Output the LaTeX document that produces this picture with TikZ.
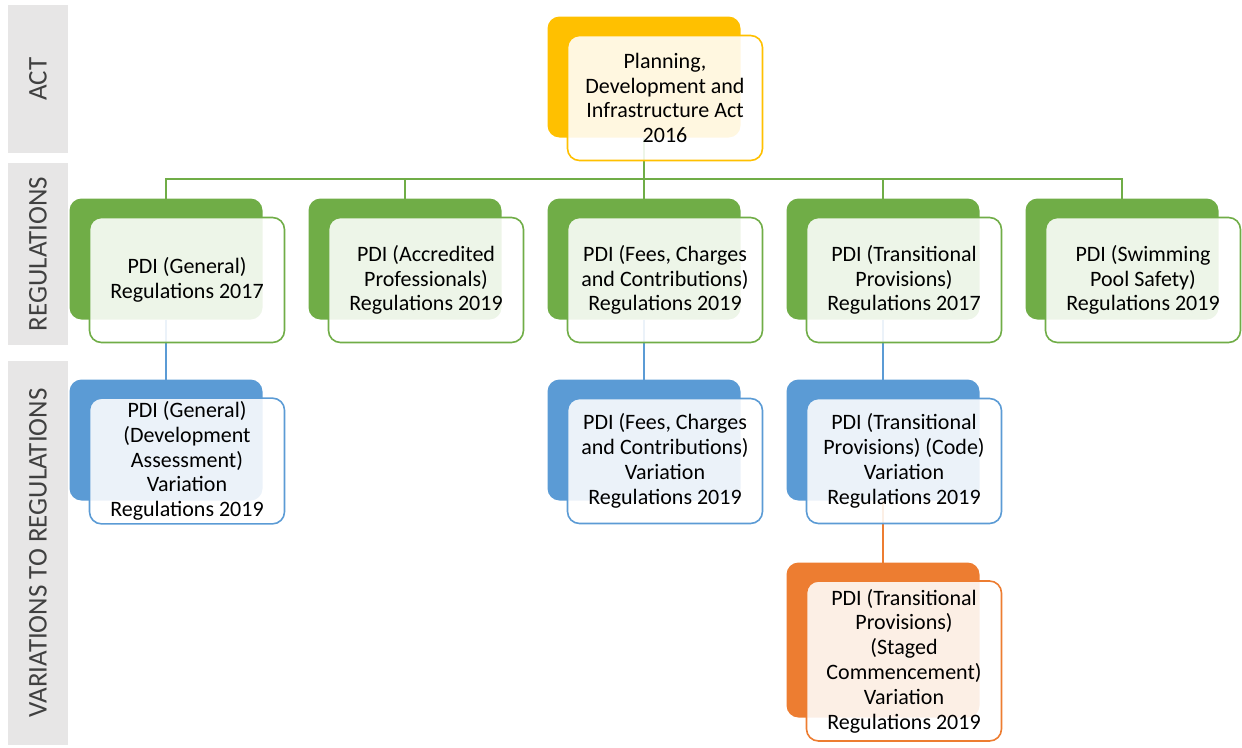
\documentclass[tikz,border=0pt]{standalone}
\usepackage{fontspec}
\setmainfont{Carlito}
\usepackage{tikz}
\usetikzlibrary{positioning}
\definecolor{actgold}{HTML}{FFC000}
\definecolor{reggreen}{HTML}{70AD47}
\definecolor{varblue}{HTML}{5B9BD5}
\definecolor{stgorange}{HTML}{ED7D31}
\definecolor{bandgray}{HTML}{E7E6E6}
\definecolor{bandtext}{HTML}{404040}
\tikzset{
  back/.style={
    rectangle, rounded corners=12pt,
    fill=#1, outer sep=0pt,
    minimum width=193pt, minimum height=121pt
  },
  front/.style={
    rectangle, rounded corners=12pt,
    draw=#1, line width=1.6pt,
    fill=white, fill opacity=0.88, text opacity=1,
    minimum width=195pt, minimum height=125pt,
    align=center, text=black, inner xsep=2pt,
    font=\fontsize{22}{24.8}\selectfont
  },
  link/.style={draw=#1, line width=1.6pt},
  band/.style={
    fill=bandgray, rotate=90, minimum height=60pt,
    text=bandtext, font=\fontsize{27}{30}\selectfont
  }
}

\begin{document}
\begin{tikzpicture}[x=1pt, y=-1pt, node distance=61pt and 46pt]
  \useasboundingbox (0,0) rectangle (1242,747);

  % side bands
  \node[band, minimum width=148pt] (actband) at (38,79) {ACT};
  \node[band, minimum width=182pt] (regband) at (38,254) {REGULATIONS};
  \node[band, minimum width=384pt] (varband) at (38,553) {VARIATIONS TO REGULATIONS};

  % back boxes
  \node[back=actgold] (act) at (644,77) {};
  \node[back=reggreen] (fee) [below=of act] {};
  \node[back=reggreen] (acc) [left=of fee] {};
  \node[back=reggreen] (gen) [left=of acc] {};
  \node[back=reggreen] (tra) [right=of fee] {};
  \node[back=reggreen] (swi) [right=of tra] {};
  \node[back=varblue] (genv) [below=60pt of gen] {};
  \node[back=varblue] (feev) [below=60pt of fee] {};
  \node[back=varblue] (trav) [below=60pt of tra] {};
  \node[back=stgorange, minimum height=155pt] (trastg) [below=62pt of trav] {};

  % links
  \coordinate (bus) at (644,179);
  \draw[link=reggreen] (act.south) -- (bus);
  \foreach \n in {gen,acc,fee,tra,swi}
    \draw[link=reggreen] (bus) -| (\n.north);
  \foreach \n in {gen,fee,tra}
    \draw[link=varblue] (\n.south) -- (\n v.north);
  \draw[link=stgorange] (trav.south) -- (trastg.north);

  % front boxes
  \node[front=actgold] (actT) at ([shift={(21,21)}]act) {Planning,\\Development and\\Infrastructure Act\\2016};
  \node[front=reggreen] (genT) at ([shift={(21,21)}]gen) {PDI (General)\\Regulations 2017};
  \node[front=reggreen] (accT) at ([shift={(21,21)}]acc) {PDI (Accredited\\Professionals)\\Regulations 2019};
  \node[front=reggreen] (feeT) at ([shift={(21,21)}]fee) {PDI (Fees, Charges\\and Contributions)\\Regulations 2019};
  \node[front=reggreen] (traT) at ([shift={(21,21)}]tra) {PDI (Transitional\\Provisions)\\Regulations 2017};
  \node[front=reggreen] (swiT) at ([shift={(21,21)}]swi) {PDI (Swimming\\Pool Safety)\\Regulations 2019};
  \node[front=varblue] (genvT) at ([shift={(21,21)}]genv) {PDI (General)\\(Development\\Assessment)\\Variation\\Regulations 2019};
  \node[front=varblue] (feevT) at ([shift={(21,21)}]feev) {PDI (Fees, Charges\\and Contributions)\\Variation\\Regulations 2019};
  \node[front=varblue] (travT) at ([shift={(21,21)}]trav) {PDI (Transitional\\Provisions) (Code)\\Variation\\Regulations 2019};
  \node[front=stgorange, minimum height=160pt] (trastgT) at ([shift={(21,21)}]trastg) {PDI (Transitional\\Provisions)\\(Staged\\Commencement)\\Variation\\Regulations 2019};
\end{tikzpicture}
\end{document}
